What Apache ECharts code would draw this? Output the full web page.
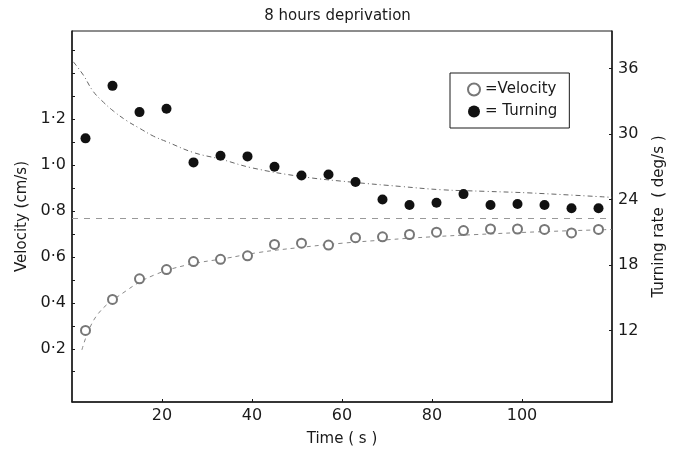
<!DOCTYPE html>
<html>
<head>
<meta charset="utf-8">
<script src="https://cdn.jsdelivr.net/npm/echarts@6/dist/echarts.min.js"></script>
<style>
  html, body { margin: 0; padding: 0; background: #fff; }
  #chart { width: 675px; height: 452px; }
</style>
</head>
<body>
<div id="chart"></div>
<script>
// measured points (time in s)
const times = [3, 9, 15, 21, 27, 33, 39, 45, 51, 57, 63, 69, 75, 81, 87, 93, 99, 105, 111, 117]
const velocity = [0.28, 0.415, 0.505, 0.545, 0.58, 0.59, 0.605, 0.655, 0.66, 0.652, 0.684, 0.688, 0.698, 0.708, 0.715, 0.722, 0.722, 0.72, 0.705, 0.72]
const turning = [29.6, 34.4, 32.0, 32.3, 27.4, 28.0, 27.95, 27.0, 26.2, 26.3, 25.6, 24.0, 23.5, 23.7, 24.5, 23.5, 23.6, 23.5, 23.2, 23.2]

// fitted curves
const turnFitT = [0.3, 2.5, 4.7, 7, 9.2, 12.2, 15.1, 18.1, 21, 27, 33, 40, 51, 62, 73, 82, 92, 102, 120]
const turnFitV = [36.6, 35.4, 33.9, 32.9, 32.1, 31.2, 30.5, 29.8, 29.3, 28.3, 27.7, 26.9, 26.1, 25.6, 25.2, 24.9, 24.75, 24.6, 24.2]
const velFitT = [2.2, 5.5, 12.2, 18.1, 25.5, 34.4, 41.6, 50, 60, 70, 80, 90, 104, 120]
const velFitV = [0.195, 0.345, 0.455, 0.52, 0.565, 0.595, 0.62, 0.64, 0.66, 0.675, 0.688, 0.698, 0.71, 0.72]
const velocityLevel = 0.77

// tick labels
const xTicks = [20, 40, 60, 80, 100]
const velTicks = [0.2, 0.4, 0.6, 0.8, 1.0, 1.2]
const turnTicks = [12, 18, 24, 30, 36]

const font = 'DejaVu Sans'
const ink = '#1a1a1a'

const chart = echarts.init(document.getElementById('chart'))

const zip = (xs, ys) => xs.map((x, i) => [x, ys[i]])

const option = {
  animation: false,
  textStyle: { fontFamily: font, color: ink },
  title: {
    text: '8 hours deprivation',
    left: 'center',
    top: 4,
    textStyle: { fontFamily: font, fontSize: 15, fontWeight: 'normal', color: ink }
  },
  legend: {
    orient: 'vertical',
    left: 450,
    top: 73,
    padding: [9, 12, 9, 17],
    itemGap: 7,
    itemWidth: 12,
    itemHeight: 12,
    borderColor: ink,
    borderWidth: 1,
    data: ['Velocity', 'Turning'],
    formatter: name => name === 'Velocity' ? '=Velocity' : '= Turning',
    textStyle: { fontFamily: font, fontSize: 15, color: ink }
  },
  grid: {
    left: 72, right: 63, top: 31, bottom: 46,
    show: true, borderColor: ink, borderWidth: 1
  },
  xAxis: {
    type: 'value',
    min: 0, max: 120,
    name: 'Time ( s )',
    nameLocation: 'middle',
    nameGap: 30,
    nameTextStyle: { fontFamily: font, fontSize: 15, color: ink },
    axisLine: { onZero: false, lineStyle: { color: ink, width: 1.5 } },
    axisTick: { inside: true, length: 3, customValues: xTicks, lineStyle: { color: ink } },
    axisLabel: { customValues: xTicks, fontFamily: font, fontSize: 16, color: ink, margin: 6 },
    splitLine: { show: false }
  },
  yAxis: [
    {
      type: 'value',
      position: 'left',
      min: -0.032, max: 1.585,
      name: 'Velocity (cm/s)',
      nameLocation: 'middle',
      nameGap: 42,
      nameTextStyle: { fontFamily: font, fontSize: 15, color: ink },
      axisLine: { show: true, onZero: false, lineStyle: { color: ink, width: 1.5 } },
      axisTick: { inside: true, length: 3, customValues: [0.1, 0.2, 0.3, 0.4, 0.5, 0.6, 0.7, 0.8, 0.9, 1.0, 1.1, 1.2, 1.3, 1.4, 1.5], lineStyle: { color: ink } },
      axisLabel: {
        customValues: velTicks,
        formatter: v => v.toFixed(1).replace('.', '·'),
        fontFamily: font, fontSize: 16, color: ink, margin: 6
      },
      splitLine: { show: false }
    },
    {
      type: 'value',
      position: 'right',
      min: 5.48, max: 39.42,
      name: 'Turning rate  ( deg/s )',
      nameLocation: 'middle',
      nameGap: 40,
      nameTextStyle: { fontFamily: font, fontSize: 15, color: ink },
      axisLine: { show: true, onZero: false, lineStyle: { color: ink, width: 1.5 } },
      axisTick: { inside: true, length: 3, customValues: turnTicks, lineStyle: { color: ink } },
      axisLabel: { customValues: turnTicks, fontFamily: font, fontSize: 16, color: ink, margin: 6 },
      splitLine: { show: false }
    }
  ],
  series: [
    {
      name: 'Turning fit',
      type: 'line',
      yAxisIndex: 1,
      data: zip(turnFitT, turnFitV),
      smooth: 0.4,
      showSymbol: false,
      silent: true,
      lineStyle: { color: '#666', width: 1, type: [5, 3, 1, 3] },
      z: 1
    },
    {
      name: 'Velocity fit',
      type: 'line',
      yAxisIndex: 0,
      data: zip(velFitT, velFitV),
      smooth: 0.4,
      showSymbol: false,
      silent: true,
      lineStyle: { color: '#888', width: 1, type: [4, 4] },
      markLine: {
        silent: true,
        symbol: 'none',
        label: { show: false },
        lineStyle: { color: '#999', width: 1, type: [6, 6] },
        data: [{ yAxis: velocityLevel }]
      },
      z: 1
    },
    {
      name: 'Velocity',
      type: 'scatter',
      yAxisIndex: 0,
      data: zip(times, velocity),
      symbol: 'emptyCircle',
      symbolSize: 9,
      itemStyle: { color: '#777', borderWidth: 1, opacity: 1 },
      z: 3
    },
    {
      name: 'Turning',
      type: 'scatter',
      yAxisIndex: 1,
      data: zip(times, turning),
      symbol: 'circle',
      symbolSize: 10,
      itemStyle: { color: '#111', opacity: 1 },
      z: 4
    }
  ]
}

chart.setOption(option)
</script>
</body>
</html>
